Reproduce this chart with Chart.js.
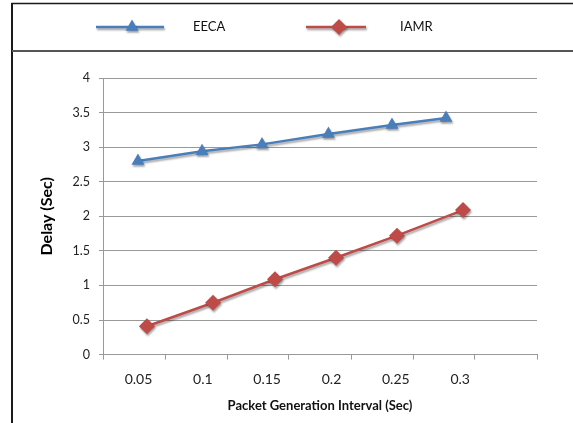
<!DOCTYPE html>
<html>
<head>
<meta charset="utf-8">
<script src="https://cdn.jsdelivr.net/npm/chart.js@4.4.0/dist/chart.umd.min.js"></script>
<style>
html,body{margin:0;padding:0;background:#fff;}
#wrap{width:573px;height:423px;position:relative;}
</style>
</head>
<body>
<div id="wrap"><canvas id="c" width="573" height="423"></canvas></div>
<script>
// ---- data ----
const seriesNames = ['EECA', 'IAMR'];
const tickLabels = ['0.05', '0.1', '0.15', '0.2', '0.25', '0.3'];
const tickValues = [0.05, 0.1, 0.15, 0.2, 0.25, 0.3];
const eecaX = [0.0496, 0.0994, 0.146, 0.1976, 0.247, 0.289];
const eecaY = [2.80, 2.94, 3.04, 3.19, 3.32, 3.42];
const iamrX = [0.0566, 0.1079, 0.1561, 0.2035, 0.2509, 0.3022];
const iamrY = [0.41, 0.75, 1.09, 1.40, 1.72, 2.09];
const yTicks = [0, 0.5, 1, 1.5, 2, 2.5, 3, 3.5, 4];

const X_MIN = 0.02244, X_MAX = 0.3597, N_BOUND = 7;
const BLUE = '#4A7EBB', RED = '#BE4B48';

function pts(xs, ys){ return xs.map((x,i)=>({x:x, y:ys[i]})); }

function drawMarker(ctx, style, x, y, r, color){
  ctx.beginPath();
  if (style === 'triangle'){
    let rad = 0;
    ctx.moveTo(x + Math.sin(rad)*r, y - Math.cos(rad)*r);
    rad += 2*Math.PI/3;
    ctx.lineTo(x + Math.sin(rad)*r, y - Math.cos(rad)*r);
    rad += 2*Math.PI/3;
    ctx.lineTo(x + Math.sin(rad)*r, y - Math.cos(rad)*r);
  } else {
    ctx.moveTo(x - r, y); ctx.lineTo(x, y - r); ctx.lineTo(x + r, y); ctx.lineTo(x, y + r);
  }
  ctx.closePath();
  ctx.fillStyle = color; ctx.fill();
}

const legendLayout = [
  {x0:96, x1:164, mx:132, tx:193, style:'triangle', r:7.5, color:BLUE},
  {x0:306, x1:366, mx:339, tx:400, style:'diamond', r:8, color:RED}
];

const framePlugin = {
  id: 'frame',
  beforeDraw(chart){
    const c = chart.ctx; c.save();
    c.fillStyle = '#fff'; c.fillRect(0,0,chart.width,chart.height);
    c.strokeStyle = '#1a1a1a'; c.lineWidth = 1.6;
    c.beginPath(); c.moveTo(11.5,3.5); c.lineTo(chart.width,3.5); c.stroke();
    c.lineWidth = 2;
    c.beginPath(); c.moveTo(12,3); c.lineTo(12,chart.height); c.stroke();
    c.strokeStyle = '#555'; c.lineWidth = 2;
    c.beginPath(); c.moveTo(12,51); c.lineTo(chart.width,51); c.stroke();
    c.restore();
  },
  afterDraw(chart){
    const c = chart.ctx; const y = 27;
    legendLayout.forEach((L,i)=>{
      c.save();
      c.shadowColor = 'rgba(0,0,0,0.35)'; c.shadowOffsetX = 1; c.shadowOffsetY = 2; c.shadowBlur = 2;
      c.strokeStyle = L.color; c.lineWidth = 2.5;
      c.beginPath(); c.moveTo(L.x0,y); c.lineTo(L.x1,y); c.stroke();
      drawMarker(c, L.style, L.mx, y, L.r, L.color);
      c.restore();
      c.save();
      c.fillStyle = '#111'; c.font = '13px Lato'; c.textBaseline = 'middle'; c.textAlign = 'left';
      c.fillText(seriesNames[i], L.tx, y);
      c.restore();
    });
  },
  beforeDatasetsDraw(chart){
    const c = chart.ctx; c.save();
    c.shadowColor = 'rgba(0,0,0,0.35)'; c.shadowOffsetX = 1; c.shadowOffsetY = 2; c.shadowBlur = 2;
  },
  afterDatasetsDraw(chart){ chart.ctx.restore(); }
};

new Chart(document.getElementById('c'), {
  type: 'line',
  data: {
    datasets: [
      {label: seriesNames[0], data: pts(eecaX, eecaY), borderColor: BLUE, backgroundColor: BLUE,
       borderWidth: 2.5, pointStyle: 'triangle', pointRadius: 7.5, pointBorderWidth: 0, tension: 0, xAxisID: 'x'},
      {label: seriesNames[1], data: pts(iamrX, iamrY), borderColor: RED, backgroundColor: RED,
       borderWidth: 2.5, pointStyle: 'rectRot', pointRadius: 8, pointBorderWidth: 0, tension: 0, xAxisID: 'x'}
    ]
  },
  options: {
    responsive: false,
    animation: false,
    layout: {padding: {left: 33, top: 78, right: 36, bottom: 5}},
    plugins: {legend: {display: false}, tooltip: {enabled: false}},
    scales: {
      xb: {
        type: 'linear', position: 'bottom', weight: 0, min: X_MIN, max: X_MAX,
        afterBuildTicks(s){ const t=[]; for(let k=0;k<=N_BOUND;k++){ t.push({value: X_MIN + k*(X_MAX-X_MIN)/N_BOUND}); } s.ticks = t; },
        ticks: {display: false},
        grid: {drawOnChartArea: false, drawTicks: true, tickLength: 5, color: '#999'},
        border: {display: true, color: '#999', width: 1}
      },
      x: {
        type: 'linear', position: 'bottom', weight: 1, min: X_MIN, max: X_MAX,
        afterBuildTicks(s){ s.ticks = tickValues.map(v=>({value:v})); },
        ticks: {autoSkip: false, maxRotation: 0, padding: 11, color: '#222',
                font: {family: 'Lato', size: 14}, callback: (v, i) => tickLabels[i]},
        grid: {display: false, drawTicks: false},
        border: {display: false},
        title: {display: true, text: 'Packet Generation Interval (Sec)', color: '#111',
                font: {family: 'Lato', size: 13, weight: 'bold'}, padding: {top: 0, bottom: 4}}
      },
      y: {
        type: 'linear', min: 0, max: 4,
        afterBuildTicks(s){ s.ticks = yTicks.map(v=>({value:v})); },
        afterFit(s){ s.width = 70; },
        ticks: {padding: 9, color: '#222', font: {family: 'Lato', size: 12.5}, callback: v => String(v)},
        grid: {color: '#999', tickLength: 4},
        border: {display: true, color: '#999'},
        title: {display: true, text: 'Delay (Sec)', color: '#000',
                font: {family: 'Lato', size: 16, weight: 'bold'}, padding: {top: 4, bottom: 4}}
      }
    }
  },
  plugins: [framePlugin]
});
</script>
</body>
</html>
